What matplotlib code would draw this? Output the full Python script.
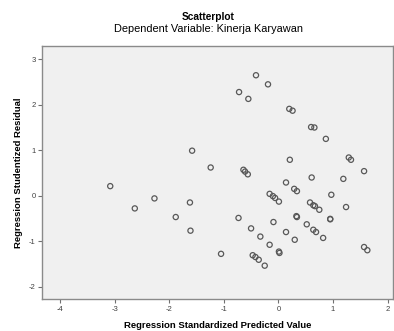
import matplotlib
matplotlib.use('Agg')
import matplotlib.pyplot as plt

plt.rcParams['font.family'] = ['Liberation Sans', 'DejaVu Sans']
plt.rcParams['axes.unicode_minus'] = False

# predicted value (x) and studentized residual (y)
predicted = [-3.08, -2.63, -2.27, -1.88, -1.62, -1.61, -1.58, -1.24, -1.05,
             -0.41, -0.19, -0.72, -0.55, 0.20, 0.26, 0.60, 0.66, 0.87,
             -0.64, -0.61, -0.56, 0.21, 1.29, 1.33, 1.57, 0.61, 1.19, 0.97,
             -0.73, -0.50, -0.33, -0.47, -0.42, -0.36, -0.25,
             -0.16, -0.10, -0.06, 0.01, -0.09, -0.16, 0.01, 0.02,
             0.14, 0.29, 0.34, 1.24, 0.58, 0.64, 0.67, 0.75,
             0.33, 0.34, 0.95, 0.95, 0.52, 0.14, 0.64, 0.69, 0.30, 0.82,
             1.57, 1.63]
residual = [0.21, -0.28, -0.06, -0.47, -0.15, -0.77, 0.99, 0.62, -1.28,
            2.65, 2.45, 2.28, 2.13, 1.91, 1.87, 1.51, 1.50, 1.25,
            0.57, 0.53, 0.47, 0.79, 0.84, 0.79, 0.54, 0.40, 0.37, 0.02,
            -0.49, -0.72, -0.90, -1.31, -1.35, -1.41, -1.54,
            0.04, -0.01, -0.05, -0.13, -0.58, -1.08, -1.23, -1.26,
            0.29, 0.15, 0.10, -0.25, -0.15, -0.21, -0.23, -0.31,
            -0.45, -0.47, -0.51, -0.52, -0.63, -0.80, -0.75, -0.80, -0.97, -0.93,
            -1.13, -1.20]

x_ticks = [-4, -3, -2, -1, 0, 1, 2]
y_ticks = [-2, -1, 0, 1, 2, 3]

fig = plt.figure(figsize=(3.94, 3.31), dpi=100)
ax = fig.add_axes([42 / 394, 1 - 299.3 / 331, 351 / 394, 253.6 / 331])
ax.set_facecolor('#f0f0f0')

ax.scatter(predicted, residual, s=14, facecolors='none', edgecolors='#585858', linewidths=0.9)

ax.set_xlim(-4.33, 2.10)
ax.set_ylim(-2.28, 3.30)
ax.set_xticks(x_ticks)
ax.set_yticks(y_ticks)
ax.set_xticklabels([str(t) for t in x_ticks])
ax.set_yticklabels([str(t) for t in y_ticks])
ax.tick_params(labelsize=5.5, length=3, width=0.8, color='#707070', labelcolor='#404040', pad=1.5)

for side in ax.spines.values():
    side.set_color('#8a8a8a')
    side.set_linewidth(1.0)

ax.set_xlabel('Regression Standardized Predicted Value', fontsize=6.8, fontweight='bold', labelpad=6)
ax.set_ylabel('Regression Studentized Residual', fontsize=6.8, fontweight='bold', labelpad=4)

fig.text(208 / 394, 1 - 17 / 331, 'Scatterplot', ha='center', va='center', fontsize=7.3, fontweight='bold')
fig.text(208 / 394, 1 - 29.5 / 331, 'Dependent Variable: Kinerja Karyawan', ha='center', va='center', fontsize=7.9)

fig.savefig('out.png', dpi=100)
